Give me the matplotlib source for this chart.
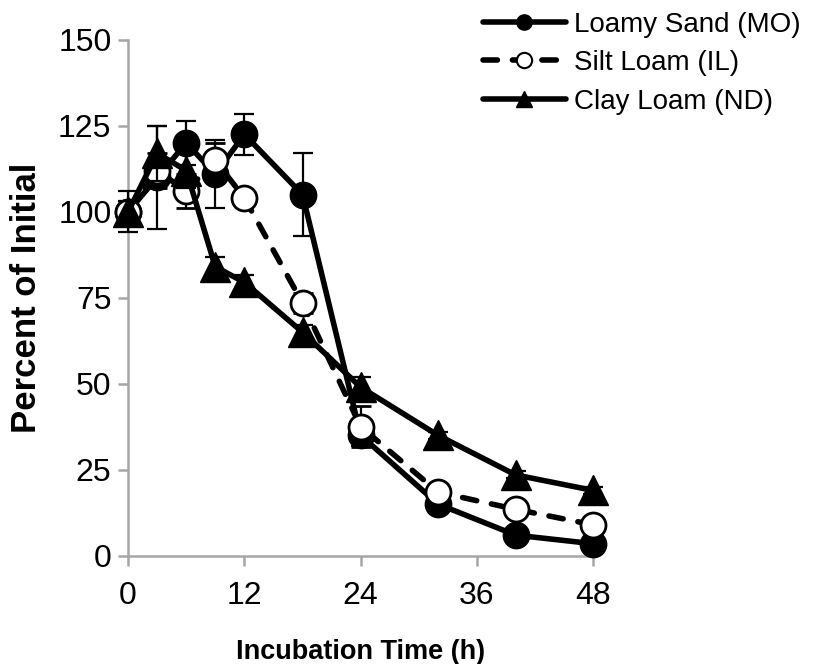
import matplotlib
matplotlib.use('Agg')
import matplotlib.pyplot as plt
from matplotlib.lines import Line2D

# incubation times (h)
hours = [0, 3, 6, 9, 12, 18, 24, 32, 40, 48]

loamy_sand = [100, 110, 120, 111, 122.5, 105, 35, 15, 6, 3.5]
loamy_err = [6, 15, 6.5, 10, 6, 12, 3, 2, 1.5, 1.5]

silt_loam = [100, 112, 106, 115, 104, 73.5, 37.5, 18.5, 13.5, 9]
silt_err = [3, 5, 5, 5, 2, 3, 6, 2, 1, 2]

clay_loam = [100, 117, 112, 84, 79.5, 65, 49, 35, 23.5, 19]
clay_err = [3, 8, 5, 3, 2, 2, 3, 1, 1, 1]

labels = ['Loamy Sand (MO)', 'Silt Loam (IL)', 'Clay Loam (ND)']

AX = '#a6a6a6'
DASH = (0, (2.6, 2.7))
plt.rcParams['font.family'] = ['Liberation Sans', 'DejaVu Sans']

fig = plt.figure(figsize=(8.16, 6.64), dpi=100)
ax = fig.add_axes([0.157, 0.163, 0.570, 0.777])

common = dict(color='black', lw=4, elinewidth=1.6, ecolor='black', capsize=7,
              capthick=1.6, clip_on=False)
ax.errorbar(hours, loamy_sand, yerr=loamy_err, marker='o', ms=19, mfc='black',
            mec='black', zorder=3, **common)
eb = ax.errorbar(hours, silt_loam, yerr=silt_err, marker='o', ms=18, mfc='white',
                 mec='black', mew=2, ls=DASH, zorder=4, **common)
eb[0].set_dash_capstyle('round')
ax.errorbar(hours, clay_loam, yerr=clay_err, marker='^', ms=21, mfc='black',
            mec='black', zorder=5, **common)

ax.set_xlim(0, 48)
ax.set_ylim(0, 150)
ax.set_xticks([0, 12, 24, 36, 48])
ax.set_yticks([0, 25, 50, 75, 100, 125, 150])
for s in ['top', 'right']:
    ax.spines[s].set_visible(False)
for s in ['left', 'bottom']:
    ax.spines[s].set_color(AX)
    ax.spines[s].set_linewidth(1.8)
ax.tick_params(direction='out', length=7, width=1.8, color=AX, labelsize=23, pad=5)
ax.tick_params(axis='x', pad=11)
ax.set_xlabel('Incubation Time (h)', fontsize=19.5, fontweight='bold', labelpad=20)
ax.set_ylabel('Percent of Initial', fontsize=25, fontweight='bold', labelpad=11)

# legend proxies without error bars
handles = [
    Line2D([], [], color='black', lw=4, marker='o', ms=11, solid_capstyle='round'),
    Line2D([], [], color='black', lw=4, ls=DASH, dash_capstyle='round', marker='o', ms=11,
           mfc='white', mew=1.5),
    Line2D([], [], color='black', lw=4, marker='^', ms=11, solid_capstyle='round'),
]
fig.legend(handles, labels, loc='upper right', bbox_to_anchor=(1.012, 1.02), frameon=False,
           fontsize=20, handlelength=3.0, handletextpad=0.3, labelspacing=0.45)

fig.savefig('out.png', dpi=100)
